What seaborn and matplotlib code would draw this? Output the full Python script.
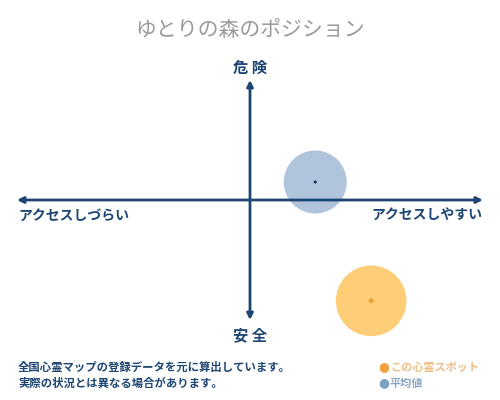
import matplotlib
matplotlib.use("Agg")
import matplotlib.pyplot as plt
import seaborn as sns
import pandas as pd

# ---- data ----
series = ["この心霊スポット", "平均値"]
access_score = [0.52, 0.28]      # -1: アクセスしづらい, +1: アクセスしやすい
danger_score = [-0.84, 0.15]     # -1: 安全, +1: 危険
bubble_size = [2585, 2060]

title = "ゆとりの森のポジション"
axis_top = "危 険"
axis_bottom = "安 全"
axis_left = "アクセスしづらい"
axis_right = "アクセスしやすい"
notes = ["全国心霊マップの登録データを元に算出しています。",
         "実際の状況とは異なる場合があります。"]

NAVY = "#1d4673"
fill_colors = {"この心霊スポット": "#fdcd78", "平均値": "#b0c4dc"}
dot_colors = {"この心霊スポット": "#f0a030", "平均値": "#1d3557"}
legend_dot = {"この心霊スポット": "#f0a040", "平均値": "#7aa3c8"}
legend_text = {"この心霊スポット": "#f2bd85", "平均値": "#8aa6c4"}

df = pd.DataFrame({"series": series, "x": access_score, "y": danger_score,
                   "size": bubble_size})

sns.set_theme(style="white")
plt.rcParams["font.family"] = ["Noto Sans CJK JP", "DejaVu Sans"]

W, H = 500, 400
fig = plt.figure(figsize=(5, 4), dpi=100)
ax = fig.add_axes([0, 0, 1, 1])
ax.set_xlim(-1 - 17 / 233, 1 + 17 / 233)
ax.set_ylim(-200 / 120, 200 / 120)
ax.axis("off")

# bubbles
sns.scatterplot(data=df, x="x", y="y", hue="series", palette=fill_colors,
                size="series", sizes=dict(zip(series, bubble_size)),
                linewidth=0, legend=False, ax=ax, zorder=2)
# centre dots
sns.scatterplot(data=df, x="x", y="y", hue="series", palette=dot_colors,
                s=[10, 4], marker="D", linewidth=0, legend=False, ax=ax, zorder=4)

# axes arrows
arrow = dict(arrowstyle="<|-|>", color=NAVY, lw=2, mutation_scale=9,
             shrinkA=0, shrinkB=0)
ax.annotate("", xy=(-1, 0), xytext=(1, 0), arrowprops=arrow, zorder=3)
ax.annotate("", xy=(0, 1), xytext=(0, -1), arrowprops=arrow, zorder=3)

def px(x, y):
    return x / W, 1 - y / H

fig.text(*px(250, 30), title, ha="center", va="center", fontsize=15,
         color="#9a9a9a")
fig.text(*px(250, 68), axis_top, ha="center", va="center", fontsize=11,
         color=NAVY, fontweight="bold")
fig.text(*px(250, 335), axis_bottom, ha="center", va="center", fontsize=11,
         color=NAVY, fontweight="bold")
fig.text(*px(18, 216), axis_left, ha="left", va="center", fontsize=10,
         color=NAVY, fontweight="bold")
fig.text(*px(482, 216), axis_right, ha="right", va="center", fontsize=10,
         color=NAVY, fontweight="bold")
for i, line in enumerate(notes):
    fig.text(*px(18, 367 + 16 * i), line, ha="left", va="center", fontsize=8.2,
             color=NAVY, fontweight="bold")

# legend
for i, name in enumerate(series):
    yy = 367 + 16 * i
    fig.text(*px(378, yy), "●", ha="left", va="center", fontsize=9,
             color=legend_dot[name], family=["DejaVu Sans"])
    fig.text(*px(390, yy), name, ha="left", va="center", fontsize=8,
             color=legend_text[name], fontweight="bold")

fig.savefig("out.png", dpi=100, facecolor="white")
